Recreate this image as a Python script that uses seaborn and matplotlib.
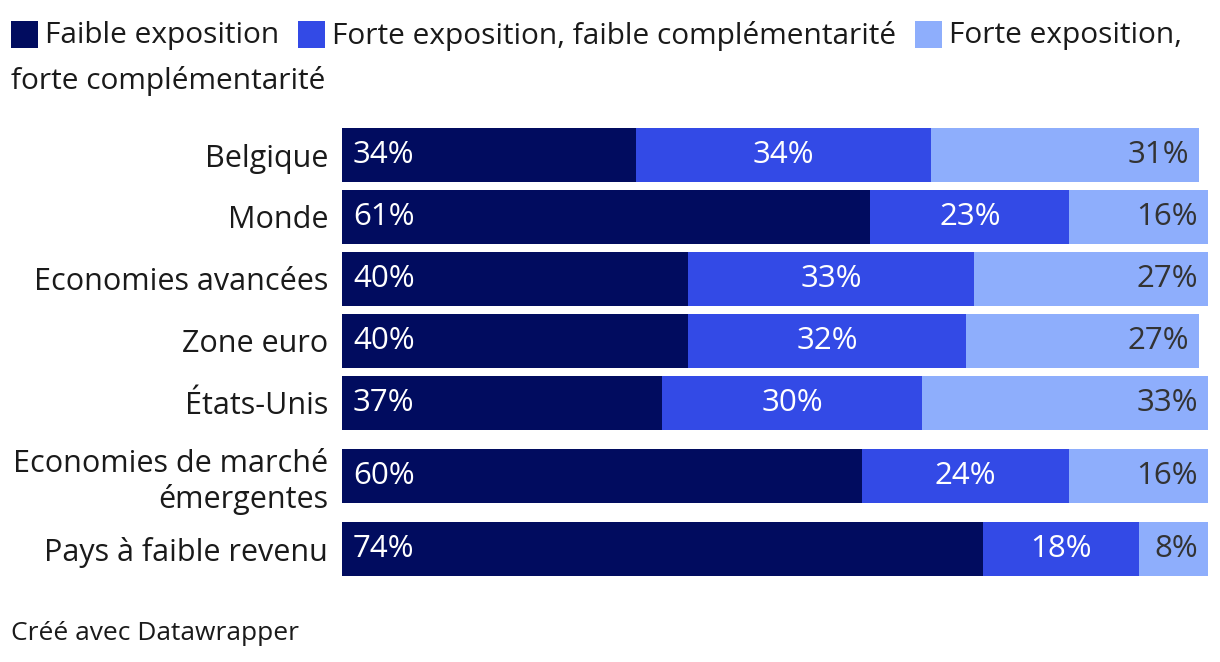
import matplotlib
matplotlib.use("Agg")
import matplotlib.pyplot as plt
import seaborn as sns
import pandas as pd
import numpy as np
from matplotlib.patches import Rectangle

categories = ["Belgique", "Monde", "Economies avancées", "Zone euro", "États-Unis",
              "Economies de marché\némergentes", "Pays à faible revenu"]
faible_expo = [34, 61, 40, 40, 37, 60, 74]
forte_faible_compl = [34, 23, 33, 32, 30, 24, 18]
forte_forte_compl = [31, 16, 27, 27, 33, 16, 8]
series_names = ["Faible exposition", "Forte exposition, faible complémentarité",
                "Forte exposition, forte complémentarité"]

C_DARK = "#010c5f"
C_MED = "#334ae6"
C_LIGHT = "#8eaefc"
TXT = "#1a1a1a"

sns.set_theme(style="white")
plt.rcParams["font.family"] = ["Open Sans", "DejaVu Sans"]

# row layout (pixels): rows with two-line labels get extra room
row_base, row_extra, first_top = 62, 22, 124
lines = [c.count("\n") + 1 for c in categories]
heights = [row_base + row_extra * (n - 1) for n in lines]
edges = first_top + np.concatenate([[0], np.cumsum(heights)])
pos = (edges[:-1] + edges[1:]) / 2.0

df = pd.DataFrame({"cat": categories, "pos": pos, "a": faible_expo,
                   "b": forte_faible_compl, "c": forte_forte_compl})
df["ab"] = df["a"] + df["b"]
df["abc"] = df["ab"] + df["c"]

W, H = 1220, 662
fig = plt.figure(figsize=(W / 100, H / 100), dpi=100)
left_px, right_px = 342, 1208
ax = fig.add_axes([left_px / W, 0, (right_px - left_px) / W, 1])

bw = 54 / row_base
for col, key in [(C_LIGHT, "abc"), (C_MED, "ab"), (C_DARK, "a")]:
    sns.barplot(data=df, y="pos", x=key, color=col, orient="h", native_scale=True,
                width=bw, ax=ax, saturation=1)
for p in ax.patches:
    p.set_edgecolor("none")
    p.set_linewidth(0)

ax.set_xlim(0, 100)
ax.set_ylim(H, 0)
ax.set_xlabel("")
ax.set_ylabel("")
ax.set_xticks([])
ax.set_yticks(pos)
ax.set_yticklabels(categories)
for s in ax.spines.values():
    s.set_visible(False)
ax.tick_params(axis="y", length=0, pad=10, labelsize=22, labelcolor=TXT)
for t in ax.get_yticklabels():
    t.set_ha("right")
    t.set_linespacing(1.2)

fs_val = 22.5
px = 100.0 / (right_px - left_px)
for _, row in df.iterrows():
    y = row["pos"]
    ax.text(11 * px, y, f"{row['a']}%", color="white", va="center", ha="left", fontsize=fs_val)
    ax.text(row["a"] + row["b"] / 2, y, f"{row['b']}%", color="white", va="center", ha="center", fontsize=fs_val)
    ax.text(row["abc"] - 10 * px, y, f"{row['c']}%", color="#333333", va="center", ha="right", fontsize=fs_val)

# Legend drawn manually (wrapping like the reference)
fig.canvas.draw()
renderer = fig.canvas.get_renderer()
fs_leg = 21.5
sq = 27
x = 11
y_sq = 34.5
y_line1 = 36
y_line2 = 81
leg_colors = [C_DARK, C_MED, C_LIGHT]
leg_texts = ["Faible exposition", "Forte exposition, faible complémentarité", "Forte exposition,"]
for col, txt in zip(leg_colors, leg_texts):
    fig.patches.append(Rectangle((x / W, 1 - (y_sq + sq / 2) / H), sq / W, sq / H,
                                 transform=fig.transFigure, facecolor=col, edgecolor="none"))
    t = fig.text((x + sq + 7) / W, 1 - y_line1 / H, txt, fontsize=fs_leg, color=TXT,
                 ha="left", va="center")
    bb = t.get_window_extent(renderer)
    x = bb.x1 + 19
fig.text(11 / W, 1 - y_line2 / H, "forte complémentarité", fontsize=fs_leg, color=TXT,
         ha="left", va="center")

fig.text(11 / W, 1 - 634 / H, "Créé avec Datawrapper", fontsize=19, color=TXT,
         ha="left", va="center")

fig.savefig("out.png", dpi=100, facecolor="white")
